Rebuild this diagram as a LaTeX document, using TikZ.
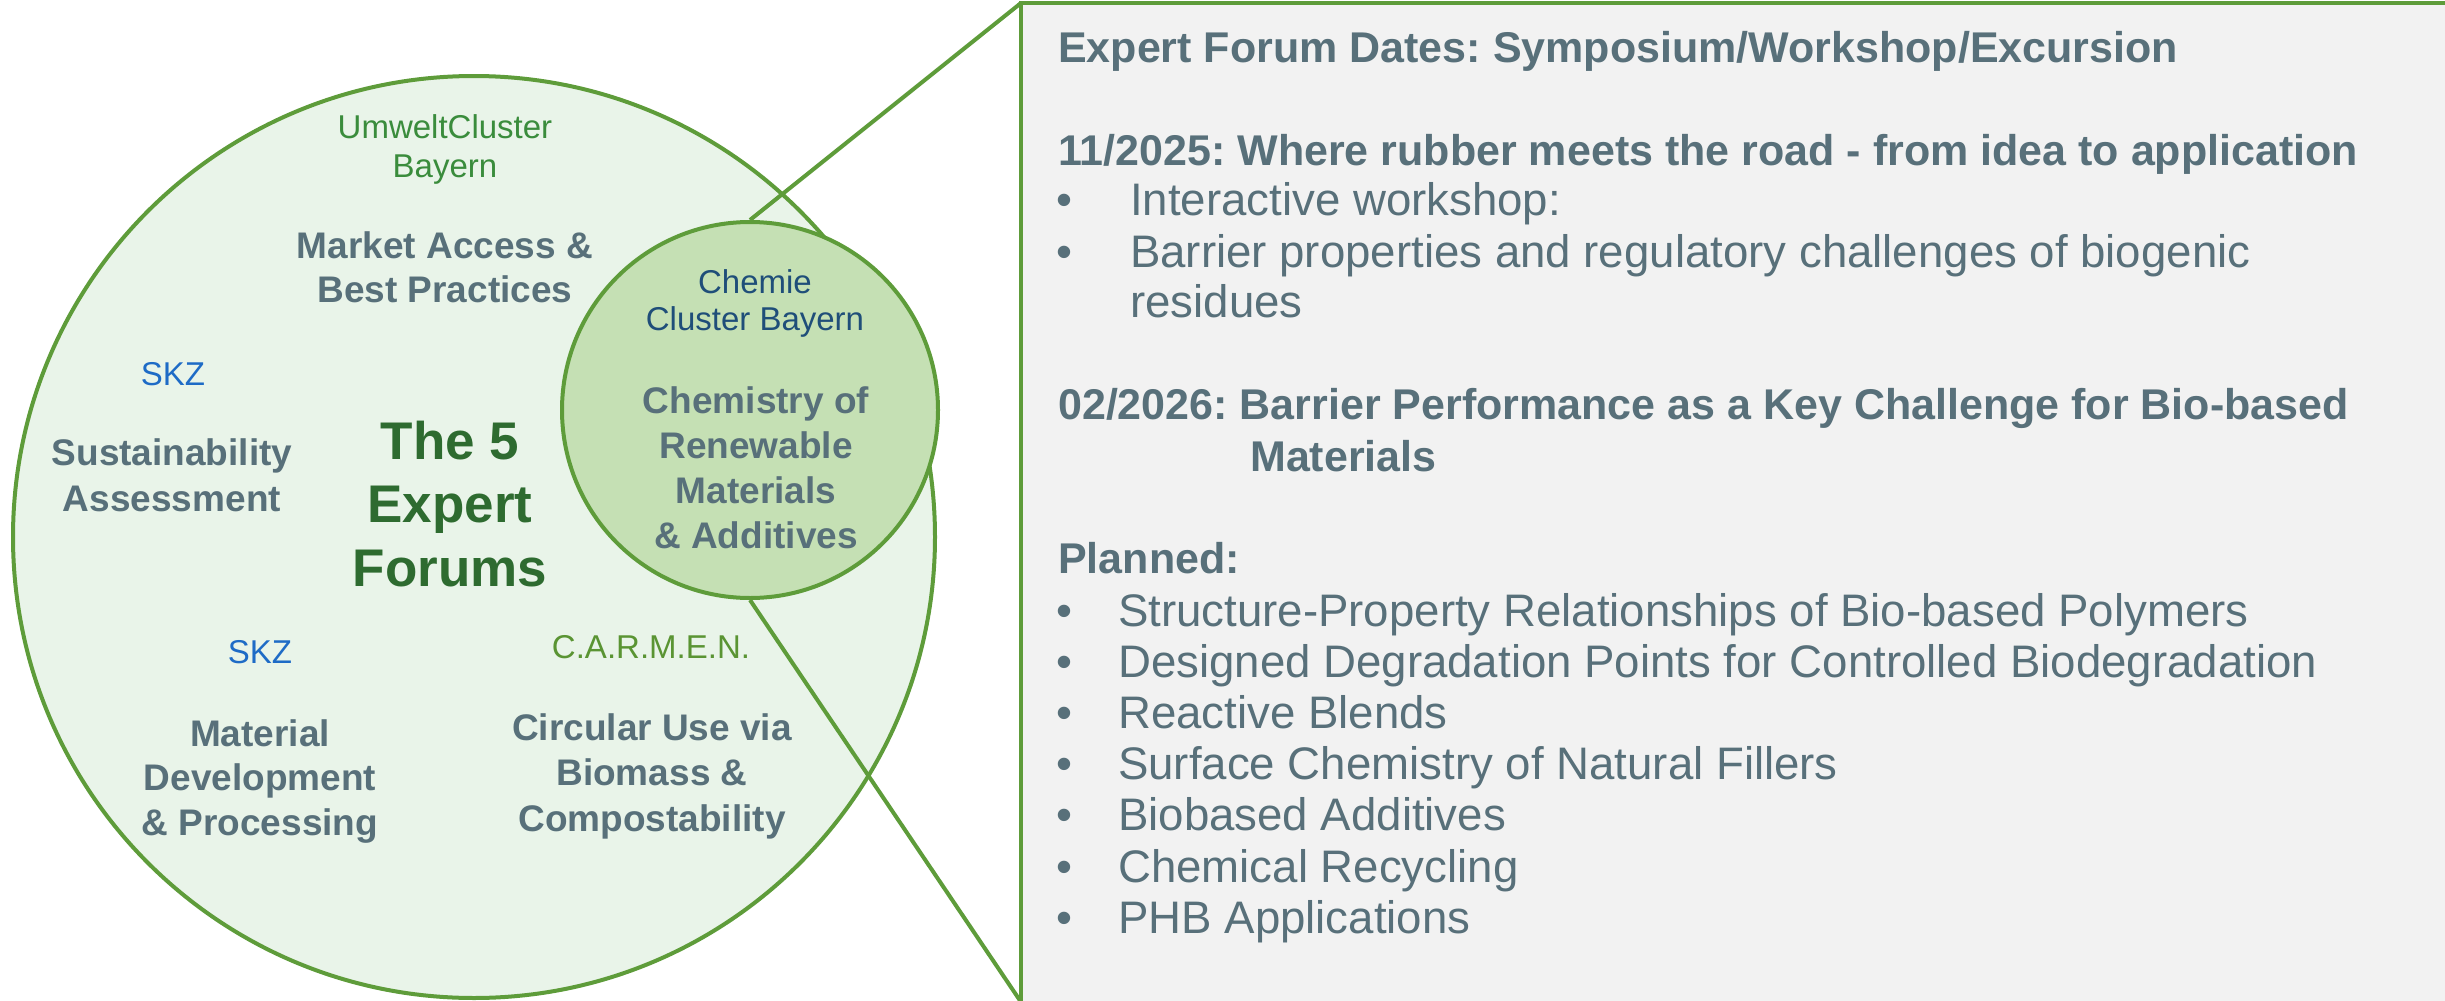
\documentclass[tikz,border=0pt]{standalone}
\usepackage{fontspec}
\setmainfont{Liberation Sans}
\definecolor{cgreen}{RGB}{94,156,58}
\definecolor{bigfill}{RGB}{233,244,233}
\definecolor{smallfill}{RGB}{197,224,180}
\definecolor{panelgray}{RGB}{242,242,242}
\definecolor{txtgray}{RGB}{88,112,122}
\definecolor{titlegreen}{RGB}{46,107,48}
\definecolor{umweltgreen}{RGB}{58,140,60}
\definecolor{skzblue}{RGB}{30,107,198}
\definecolor{chemieblue}{RGB}{31,78,121}
\definecolor{carmengreen}{RGB}{90,148,51}
\begin{document}
\frenchspacing
\begin{tikzpicture}[x=1pt,y=-1pt,
  lbl/.style={inner sep=0pt, align=center, anchor=base},
  topic/.style={lbl, text=txtgray, font=\bfseries\fontsize{37}{44.5}\selectfont},
  org/.style={lbl, font=\fontsize{33}{39}\selectfont},
  ptext/.style={inner sep=0pt, anchor=base west, text=txtgray, font=\fontsize{45.6}{51}\selectfont},
  phead/.style={ptext, font=\bfseries\fontsize{43}{51}\selectfont},
  conn/.style={draw=cgreen, line width=4pt}
]
\useasboundingbox (0,0) rectangle (2445,1001);

% big circle
\node[circle, draw=cgreen, line width=4pt, fill=bigfill, minimum size=922pt, inner sep=0pt] (big) at (474,537) {};

% right panel
\node[rectangle, fill=panelgray, minimum width=1424pt, minimum height=999pt, anchor=north west, inner sep=0pt, outer sep=0pt] (panel) at (1021,3) {};
\draw[conn] (panel.south west) -- (panel.north west) -- (panel.north east);

% small circle
\node[circle, draw=cgreen, line width=4pt, fill=smallfill, minimum size=376pt, inner sep=0pt] (small) at (750,410) {};

% connectors
\draw[conn] (small.north) -- (panel.north west);
\draw[conn] (small.south) -- (panel.south west);

% left labels (anchor = baseline of the last line)
\node[org, text=umweltgreen] (umwelt) at (445,177) {UmweltCluster\\Bayern};
\node[topic] (market) at (445,302.5) {Market Access \&\\Best Practices};
\node[org, text=skzblue] (skza) at (173,385) {SKZ};
\node[topic, font=\bfseries\fontsize{37}{46}\selectfont] (sust) at (172,511) {Sustainability\\Assessment};
\node[lbl, text=titlegreen, font=\bfseries\fontsize{53}{63.5}\selectfont] (title) at (450,586) {The 5\\Expert\\Forums};
\node[org, text=skzblue] (skzb) at (260,663) {SKZ};
\node[topic] (matdev) at (260,835) {Material\\Development\\\& Processing};
\node[org, text=carmengreen] (carmen) at (651,658) {C.A.R.M.E.N.};
\node[topic, font=\bfseries\fontsize{37}{45.5}\selectfont] (circ) at (652,831) {Circular Use via\\Biomass \&\\Compostability};
\node[org, text=chemieblue, font=\fontsize{33}{37.5}\selectfont] (chemie) at (755,330.5) {Chemie\\Cluster Bayern};
\node[topic, font=\bfseries\fontsize{37}{45}\selectfont] (chem) at (756,548) {Chemistry of\\Renewable\\Materials\\\& Additives};

% right panel text
\node[phead] (h0) at (1058,62) {Expert Forum Dates: Symposium/Workshop/Excursion};
\node[phead] (h1) at (1058,165) {11/2025: Where rubber meets the road - from idea to application};
\node[ptext] (b1) at (1056,215) {•};
\node[ptext] (t1) at (1130,215) {Interactive workshop:};
\node[ptext] (b2) at (1056,267) {•};
\node[ptext] (t2) at (1130,267) {Barrier properties and regulatory challenges of biogenic};
\node[ptext] (t2b) at (1130,317) {residues};
\node[phead] (h2) at (1058,419) {02/2026: Barrier Performance as a Key Challenge for Bio-based};
\node[phead] (h2b) at (1250,471) {Materials};
\node[phead] (h3) at (1058,573) {Planned:};
\node[ptext] (pb1) at (1056,626) {•};
\node[ptext] (p1) at (1118,626) {Structure-Property Relationships of Bio-based Polymers};
\node[ptext] (pb2) at (1056,677) {•};
\node[ptext] (p2) at (1118,677) {Designed Degradation Points for Controlled Biodegradation};
\node[ptext] (pb3) at (1056,728) {•};
\node[ptext] (p3) at (1118,728) {Reactive Blends};
\node[ptext] (pb4) at (1056,779) {•};
\node[ptext] (p4) at (1118,779) {Surface Chemistry of Natural Fillers};
\node[ptext] (pb5) at (1056,830) {•};
\node[ptext] (p5) at (1118,830) {Biobased Additives};
\node[ptext] (pb6) at (1056,882) {•};
\node[ptext] (p6) at (1118,882) {Chemical Recycling};
\node[ptext] (pb7) at (1056,933) {•};
\node[ptext] (p7) at (1118,933) {PHB Applications};
\end{tikzpicture}
\end{document}
